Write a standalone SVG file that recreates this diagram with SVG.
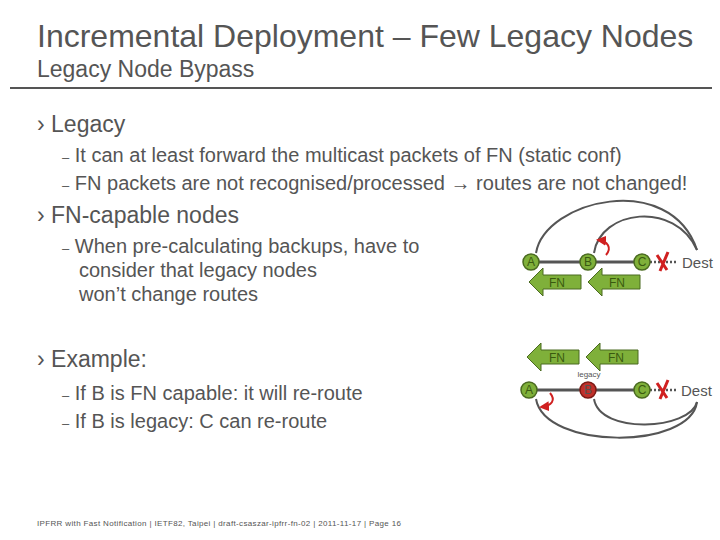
<svg xmlns="http://www.w3.org/2000/svg" width="720" height="540" viewBox="0 0 720 540">
<defs>
<style>
text{font-family:"Liberation Sans",Arial,sans-serif;fill:#555}
.b{font-size:23px}
.s{font-size:20px}
.node{fill:#7fb03a;stroke:#4a6a20;stroke-width:1.5}
.leg{fill:#c0302a;stroke:#7a1a15;stroke-width:1.5}
.link{stroke:#555;stroke-width:3}
.arc{fill:none;stroke:#555;stroke-width:2}
.fn{fill:#7fb03a;stroke:#4a6a20;stroke-width:1}
.fnt{font-size:12px;fill:#3a5a10}
.red{fill:none;stroke:#d02020;stroke-width:2}
.nl{font-size:12px;fill:#3a5a10}
</style>
<marker id="rh" viewBox="0 0 10 10" refX="8" refY="5" markerWidth="5" markerHeight="5" orient="auto"><path d="M0,0 L10,5 L0,10 z" fill="#d02020"/></marker>
<polygon id="arrow" class="fn" points="0,0 14,-14 14,-7 52,-7 52,7 14,7 14,14"/>
</defs>
<g id="header">
<text x="37" y="47" font-size="32">Incremental Deployment – Few Legacy Nodes</text>
<text x="37" y="77" font-size="23">Legacy Node Bypass</text>
<line x1="10" y1="88" x2="712" y2="88" stroke="#555" stroke-width="2"/>
</g>
<g id="body">
<text x="37" y="132" class="b">› Legacy</text>
<text x="62" y="162" class="s"><tspan font-size="13">–</tspan> It can at least forward the multicast packets of FN (static conf)</text>
<text x="62" y="190" class="s"><tspan font-size="13">–</tspan> FN packets are not recognised/processed <tspan font-weight="bold">→</tspan> routes are not changed!</text>
<text x="37" y="223" class="b">› FN-capable nodes</text>
<text x="62" y="253" class="s"><tspan font-size="13">–</tspan> When pre-calculating backups, have to</text>
<text x="79" y="277" class="s">consider that legacy nodes</text>
<text x="79" y="301" class="s">won’t change routes</text>
<text x="37" y="367" class="b">› Example:</text>
<text x="62" y="400" class="s"><tspan font-size="13">–</tspan> If B is FN capable: it will re-route</text>
<text x="62" y="428" class="s"><tspan font-size="13">–</tspan> If B is legacy: C can re-route</text>
<text x="37" y="526" font-size="8" letter-spacing="0.35">IPFRR with Fast Notification  |  IETF82, Taipei  |  draft-csaszar-ipfrr-fn-02  |  2011-11-17  |  Page  16</text>
</g>
<g id="connectors">
<line class="link" x1="531" y1="262" x2="642" y2="262"/>
<line x1="650" y1="262" x2="678" y2="262" stroke="#555" stroke-width="2.5" stroke-dasharray="2,2"/>
<path class="arc" d="M536,253 C545,200 670,170 697,250"/>
<path class="arc" d="M594,253 C600,210 675,200 697,250"/>
<line class="link" x1="531" y1="390" x2="642" y2="390"/>
<line x1="650" y1="390" x2="678" y2="390" stroke="#555" stroke-width="2.5" stroke-dasharray="2,2"/>
<path class="arc" d="M594,399 C600,435 690,430 697,402"/>
<path class="arc" d="M536,399 C545,450 690,450 697,402"/>
<path class="red" d="M606,255 C612,248 608,241 598,240" marker-end="url(#rh)"/>
<path class="red" d="M550,393 C556,400 552,406 541,407" marker-end="url(#rh)"/>
</g>
<g id="cross1"><path d="M657,255 L667,270 M668,252 L660,271" stroke="#d02020" stroke-width="3" fill="none"/></g>
<g id="cross2"><path d="M657,383 L667,398 M668,380 L660,399" stroke="#d02020" stroke-width="3" fill="none"/></g>
<g id="A1"><circle class="node" cx="531" cy="262" r="8"/><text x="531" y="266" class="nl" text-anchor="middle">A</text></g>
<g id="B1"><circle class="node" cx="588" cy="262" r="8"/><text x="588" y="266" class="nl" text-anchor="middle">B</text></g>
<g id="C1"><circle class="node" cx="642" cy="262" r="8"/><text x="642" y="266" class="nl" text-anchor="middle">C</text></g>
<g id="Dest1"><text x="682" y="268" font-size="15">Dest</text></g>
<g id="fn1"><use href="#arrow" x="529" y="282"/><text x="557" y="287" class="fnt" text-anchor="middle">FN</text></g>
<g id="fn2"><use href="#arrow" x="588" y="282"/><text x="617" y="287" class="fnt" text-anchor="middle">FN</text></g>
<g id="A2"><circle class="node" cx="529" cy="390" r="8"/><text x="529" y="394" class="nl" text-anchor="middle">A</text></g>
<g id="B2"><circle class="leg" cx="588" cy="390" r="8"/><text x="588" y="394" font-size="12" fill="#a02020" text-anchor="middle">B</text></g>
<g id="C2"><circle class="node" cx="642" cy="390" r="8"/><text x="642" y="394" class="nl" text-anchor="middle">C</text></g>
<g id="Dest2"><text x="681" y="396" font-size="15">Dest</text></g>
<g id="fn3"><use href="#arrow" x="527" y="357"/><text x="557" y="362" class="fnt" text-anchor="middle">FN</text></g>
<g id="fn4"><use href="#arrow" x="586" y="357"/><text x="616" y="362" class="fnt" text-anchor="middle">FN</text></g>
<text x="589" y="377" font-size="8" text-anchor="middle">legacy</text>
</svg>
